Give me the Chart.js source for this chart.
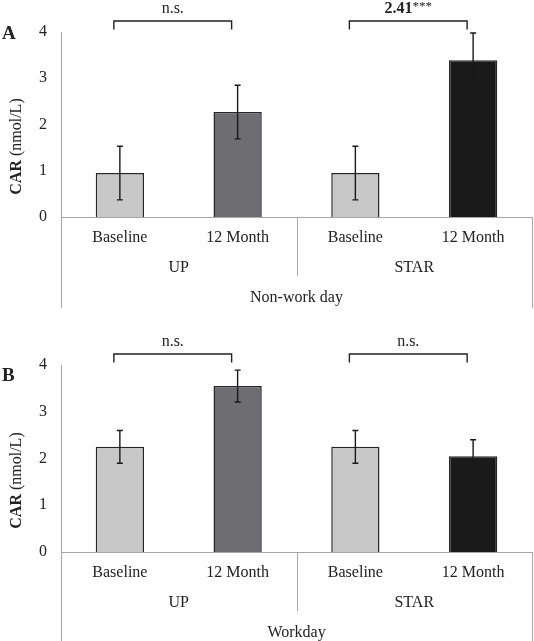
<!DOCTYPE html>
<html>
<head>
<meta charset="utf-8">
<script src="https://cdn.jsdelivr.net/npm/chart.js@4.4.1/dist/chart.umd.min.js"></script>
<style>
  html, body { margin: 0; padding: 0; background: #fff; }
  canvas { display: block; }
</style>
</head>
<body>
<canvas id="chart-a" width="534" height="320"></canvas>
<canvas id="chart-b" width="534" height="321"></canvas>
<script>
// data
const categories = ['Baseline', '12 Month', 'Baseline', '12 Month'];
const groups = ['UP', 'STAR'];
const nonWorkMeans = [0.95, 2.27, 0.95, 3.39];
const nonWorkErr = [0.58, 0.58, 0.58, 0.59];
const workMeans = [2.25, 3.55, 2.25, 2.05];
const workErr = [0.35, 0.34, 0.35, 0.35];
const nonWorkBrackets = ['n.s.', '2.41***'];
const workBrackets = ['n.s.', 'n.s.'];
const yTicks = [0, 1, 2, 3, 4];
const barColors = ['#c8c8c8', '#6e6e72', '#c8c8c8', '#1a1a1a'];

const FONT = "'Liberation Serif', 'Times New Roman', serif";
const INK = '#222';
const AXIS = '#a6a6a6';

const panelPlugin = {
    id: 'panel',
    afterDatasetsDraw(chart, args, opts) {
        const ctx = chart.ctx;
        const x = chart.scales.x, y = chart.scales.y;
        const errs = opts.errors || [];
        ctx.save();
        ctx.strokeStyle = '#1a1a1a';
        ctx.lineWidth = 1.4;
        chart.data.datasets[0].data.forEach((v, i) => {
            const cx = x.getPixelForValue(i);
            const yt = y.getPixelForValue(v + errs[i]);
            const yb = y.getPixelForValue(v - errs[i]);
            ctx.beginPath();
            ctx.moveTo(cx, yt); ctx.lineTo(cx, yb);
            ctx.moveTo(cx - 3, yt); ctx.lineTo(cx + 3, yt);
            ctx.moveTo(cx - 3, yb); ctx.lineTo(cx + 3, yb);
            ctx.stroke();
        });
        ctx.restore();
    },
    afterDraw(chart, args, opts) {
        const ctx = chart.ctx;
        const area = chart.chartArea;
        const x = chart.scales.x;
        ctx.save();

        // group dividers below the axis
        ctx.strokeStyle = AXIS;
        ctx.lineWidth = 1;
        const mid = x.getPixelForValue(1.5);
        [[area.left, 91], [mid, 59], [area.right, 91]].forEach(([px, len]) => {
            ctx.beginPath();
            ctx.moveTo(Math.round(px) + 0.5, area.bottom);
            ctx.lineTo(Math.round(px) + 0.5, area.bottom + len);
            ctx.stroke();
        });

        // group and panel titles
        ctx.fillStyle = INK;
        ctx.font = '16px ' + FONT;
        ctx.textAlign = 'center';
        ctx.textBaseline = 'middle';
        groups.forEach((g, i) => {
            const gx = (x.getPixelForValue(i * 2) + x.getPixelForValue(i * 2 + 1)) / 2;
            ctx.fillText(g, gx, area.bottom + 51);
        });
        ctx.fillText(opts.title, (area.left + area.right) / 2, area.bottom + 81);

        // significance brackets
        ctx.strokeStyle = INK;
        ctx.lineWidth = 1.4;
        (opts.brackets || []).forEach((label, i) => {
            const x1 = x.getPixelForValue(i * 2) - 6;
            const x2 = x.getPixelForValue(i * 2 + 1) - 6;
            const yTop = area.top - 11;
            ctx.beginPath();
            ctx.moveTo(x1, area.top - 2.5);
            ctx.lineTo(x1, yTop);
            ctx.lineTo(x2, yTop);
            ctx.lineTo(x2, area.top - 2.5);
            ctx.stroke();
            const cx = (x1 + x2) / 2;
            const ty = area.top - 23;
            if (label.endsWith('***')) {
                const num = label.replace('***', '');
                ctx.font = 'bold 16px ' + FONT;
                const w1 = ctx.measureText(num).width;
                ctx.font = '13px ' + FONT;
                const w2 = ctx.measureText('***').width;
                const start = cx - (w1 + w2) / 2;
                ctx.textAlign = 'left';
                ctx.font = 'bold 16px ' + FONT;
                ctx.fillText(num, start, ty);
                ctx.font = '13px ' + FONT;
                ctx.fillText('***', start + w1, ty - 2);
            } else {
                ctx.textAlign = 'center';
                ctx.font = '16px ' + FONT;
                ctx.fillText(label, cx, ty);
            }
        });

        // y axis title: bold "CAR" + normal unit
        ctx.translate(17, (area.top + area.bottom) / 2 + 22);
        ctx.rotate(-Math.PI / 2);
        ctx.textAlign = 'left';
        ctx.font = 'bold 16px ' + FONT;
        const wa = ctx.measureText('CAR').width;
        ctx.font = '16px ' + FONT;
        const wb = ctx.measureText(' (nmol/L)').width;
        ctx.font = 'bold 16px ' + FONT;
        ctx.fillText('CAR', -(wa + wb) / 2, 0);
        ctx.font = '16px ' + FONT;
        ctx.fillText(' (nmol/L)', -(wa + wb) / 2 + wa, 0);
        ctx.setTransform(1, 0, 0, 1, 0, 0);

        // panel letter
        ctx.font = 'bold 19px ' + FONT;
        ctx.textAlign = 'left';
        ctx.fillText(opts.letter, 2, opts.letterY);
        ctx.restore();
    }
};

function makePanel(canvasId, means, errs, brackets, title, letter, letterY, top, xHeight) {
    return new Chart(document.getElementById(canvasId), {
        type: 'bar',
        data: {
            labels: categories,
            datasets: [{
                data: means,
                backgroundColor: barColors,
                borderColor: '#262626',
                borderWidth: 1.5,
                categoryPercentage: 1,
                barPercentage: 0.41
            }]
        },
        options: {
            responsive: false,
            animation: false,
            devicePixelRatio: 1,
            layout: { padding: { top: top, right: 2, left: 0, bottom: 0 } },
            plugins: {
                legend: { display: false },
                tooltip: { enabled: false },
                panel: { errors: errs, brackets: brackets, title: title, letter: letter, letterY: letterY }
            },
            scales: {
                x: {
                    grid: { display: false, drawTicks: false },
                    border: { color: AXIS, width: 1 },
                    ticks: { color: INK, font: { family: FONT, size: 16 }, padding: 11, maxRotation: 0 },
                    afterFit: s => { s.height = xHeight; }
                },
                y: {
                    min: yTicks[0],
                    max: yTicks[yTicks.length - 1],
                    grid: { display: false, drawTicks: false },
                    border: { color: AXIS, width: 1 },
                    ticks: { stepSize: 1, color: INK, font: { family: FONT, size: 16 }, padding: 14 },
                    afterBuildTicks: s => { s.ticks = yTicks.map(v => ({ value: v })); },
                    afterFit: s => { s.width = 61; }
                }
            }
        },
        plugins: [panelPlugin]
    });
}

makePanel('chart-a', nonWorkMeans, nonWorkErr, nonWorkBrackets, 'Non-work day', 'A', 34, 32, 103);
makePanel('chart-b', workMeans, workErr, workBrackets, 'Workday', 'B', 56, 45, 89);
</script>
</body>
</html>
